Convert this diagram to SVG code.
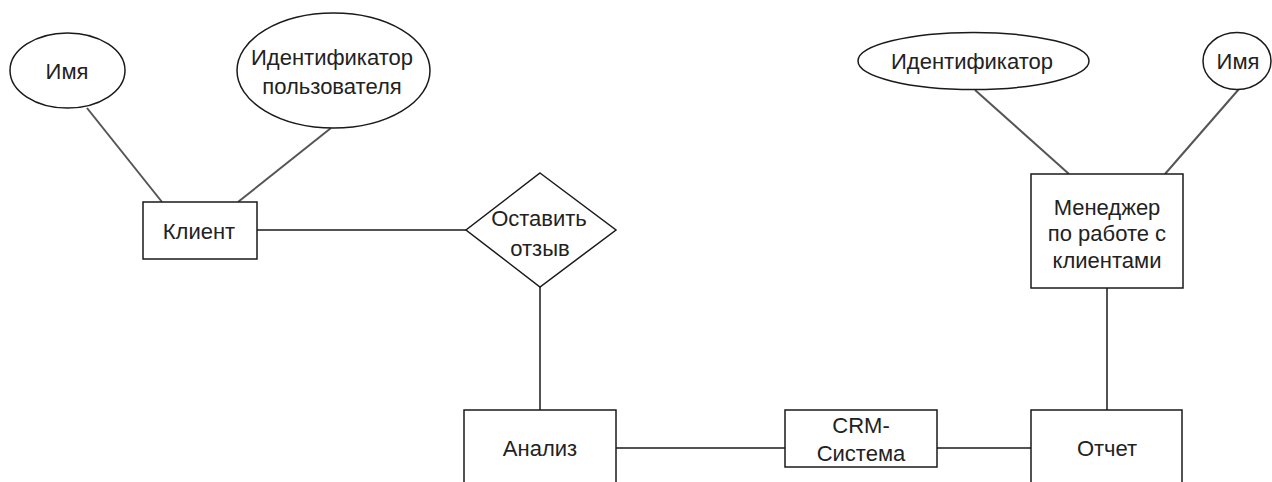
<svg xmlns="http://www.w3.org/2000/svg" width="1272" height="482" viewBox="0 0 1272 482">
  <style>
    .shape { fill: #ffffff; stroke: #1a1a1a; stroke-width: 1.5; }
    .link { fill: none; stroke: #1a1a1a; stroke-width: 1.5; }
    .attr-link { fill: none; stroke: #555555; stroke-width: 2; }
    text { font-family: "Liberation Sans", Arial, sans-serif; font-size: 22px; fill: #222222; text-anchor: middle; dominant-baseline: central; }
  </style>
  <rect width="1272" height="482" fill="#ffffff"/>

  <!-- connectors -->
  <g id="connectors">
    <line class="attr-link" x1="87" y1="108" x2="162" y2="202"/>
    <line class="attr-link" x1="331" y1="128" x2="238" y2="202"/>
    <line class="link" x1="257" y1="230" x2="466" y2="230"/>
    <line class="link" x1="540" y1="287" x2="540" y2="410"/>
    <line class="link" x1="616" y1="448" x2="785" y2="448"/>
    <line class="link" x1="937" y1="448" x2="1031" y2="448"/>
    <line class="link" x1="1107" y1="288" x2="1107" y2="410"/>
    <line class="attr-link" x1="975" y1="90" x2="1069" y2="174"/>
    <line class="attr-link" x1="1239" y1="89" x2="1165" y2="174"/>
  </g>

  <!-- client attributes -->
  <g id="client-name">
    <ellipse class="shape" cx="67.5" cy="70.5" rx="57.5" ry="37.5"/>
    <text x="67" y="71">Имя</text>
  </g>
  <g id="client-id">
    <ellipse class="shape" cx="333.5" cy="70.5" rx="96.5" ry="57.5"/>
    <text x="332" y="57">Идентификатор</text>
    <text x="332" y="86">пользователя</text>
  </g>

  <g id="client">
    <rect class="shape" x="143" y="202" width="114" height="57"/>
    <text x="199" y="231">Клиент</text>
  </g>

  <g id="leave-review">
    <polygon class="shape" points="540,173 616,230 540,287 466,230"/>
    <text x="539" y="218">Оставить</text>
    <text x="540" y="248">отзыв</text>
  </g>

  <g id="analysis">
    <rect class="shape" x="464" y="410" width="152" height="76"/>
    <text x="540" y="448">Анализ</text>
  </g>

  <g id="crm">
    <rect class="shape" x="785" y="410" width="152" height="57"/>
    <text x="861" y="425">CRM-</text>
    <text x="861" y="453">Система</text>
  </g>

  <g id="report">
    <rect class="shape" x="1031" y="410" width="151" height="76"/>
    <text x="1107" y="448">Отчет</text>
  </g>

  <g id="manager">
    <rect class="shape" x="1031" y="174" width="152" height="114"/>
    <text x="1107" y="207">Менеджер</text>
    <text x="1107" y="233">по работе с</text>
    <text x="1107" y="260">клиентами</text>
  </g>

  <!-- manager attributes -->
  <g id="manager-id">
    <ellipse class="shape" cx="973.5" cy="61" rx="115.5" ry="28.5"/>
    <text x="972" y="61">Идентификатор</text>
  </g>
  <g id="manager-name">
    <ellipse class="shape" cx="1237" cy="61" rx="34" ry="28.5"/>
    <text x="1238" y="61">Имя</text>
  </g>
</svg>
